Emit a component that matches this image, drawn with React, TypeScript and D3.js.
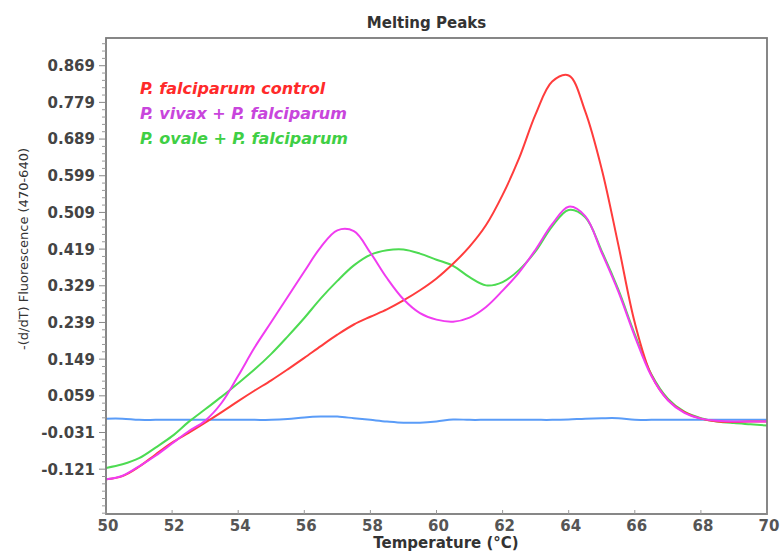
import React from 'react';
import * as d3 from 'd3';

// temperature grid (°C), 0.5 steps
const temps = [
  50, 50.5, 51, 51.5, 52, 52.5, 53, 53.5, 54, 54.5, 55, 55.5, 56, 56.5, 57, 57.5, 58, 58.5, 59, 59.5,
  60, 60.5, 61, 61.5, 62, 62.5, 63, 63.5, 64, 64.5, 65, 65.5, 66, 66.5, 67, 67.5, 68, 68.5, 69, 69.5, 70,
];

// -(d/dT) fluorescence readings per sample
const falciparumControl = [
  -0.146, -0.138, -0.115, -0.085, -0.056, -0.032, -0.007, 0.019, 0.046, 0.072, 0.097, 0.124, 0.152, 0.181,
  0.209, 0.234, 0.253, 0.271, 0.293, 0.318, 0.347, 0.383, 0.425, 0.478, 0.552, 0.642, 0.75, 0.83, 0.845,
  0.757, 0.615, 0.43, 0.238, 0.11, 0.049, 0.019, 0.003, -0.004, -0.005, -0.004, -0.004,
];
const vivaxFalciparum = [
  -0.146, -0.137, -0.114, -0.088, -0.058, -0.028, -0.002, 0.042, 0.108, 0.178, 0.24, 0.302, 0.364, 0.424,
  0.465, 0.463, 0.41, 0.348, 0.296, 0.262, 0.246, 0.241, 0.251, 0.277, 0.317, 0.362, 0.418, 0.48, 0.523,
  0.5, 0.41, 0.315, 0.205, 0.108, 0.048, 0.017, 0.003, -0.002, -0.004, -0.004, -0.004,
];
const ovaleFalciparum = [
  -0.118, -0.109, -0.094, -0.068, -0.04, -0.005, 0.026, 0.057, 0.09, 0.124, 0.162, 0.205, 0.25, 0.298,
  0.341, 0.379, 0.405, 0.416, 0.418, 0.408, 0.393, 0.378, 0.35, 0.33, 0.338, 0.368, 0.414, 0.475, 0.515,
  0.497, 0.414, 0.32, 0.21, 0.112, 0.052, 0.02, 0.004, -0.004, -0.008, -0.011, -0.014,
];
const negativeControl = [
  0.003, 0.003, 0.0, 0.0, 0.0, 0.0, 0.0, 0.0, 0.0, 0.0, 0.0, 0.002, 0.006, 0.008, 0.008, 0.004, 0.0, -0.004,
  -0.007, -0.007, -0.004, 0.001, 0.0, 0.0, 0.0, 0.0, 0.0, 0.0, 0.001, 0.003, 0.004, 0.004, 0.0, 0.0, 0.0,
  0.0, 0.0, 0.0, 0.0, 0.0, 0.0,
];

const xTicks = [50, 52, 54, 56, 58, 60, 62, 64, 66, 68, 70];
const yTickLabels = ['-0.121', '-0.031', '0.059', '0.149', '0.239', '0.329', '0.419', '0.509', '0.599', '0.689', '0.779', '0.869'];

const legendItems = [
  { label: 'P. falciparum control', color: '#ff2a2a' },
  { label: 'P. vivax + P. falciparum', color: '#c845dc' },
  { label: 'P. ovale + P. falciparum', color: '#3fcf45' },
];

const series = [
  { values: negativeControl, color: '#5a9cf8' },
  { values: ovaleFalciparum, color: '#4ddb52' },
  { values: falciparumControl, color: '#ff3c3c' },
  { values: vivaxFalciparum, color: '#f03cf0' },
];

const W = 780;
const H = 552;
const margin = { left: 106, right: 13, top: 38, bottom: 38 };

export default function App() {
  const x = d3.scaleLinear().domain([50, 70]).range([margin.left, W - margin.right]);
  const y = d3.scaleLinear().domain([-0.231, 0.937]).range([H - margin.bottom, margin.top]);

  const line = d3
    .line<number>()
    .x((_, i) => x(temps[i]))
    .y((d) => y(d))
    .curve(d3.curveCatmullRom.alpha(0.5));

  const yMajors = yTickLabels.map(Number);
  const yMinors = d3.range(-0.229, 0.937, 0.018).filter((v) => !yMajors.some((m) => Math.abs(m - v) < 0.002));

  const font = '"DejaVu Sans", sans-serif';
  const x0 = margin.left;
  const x1 = W - margin.right;
  const yb = H - margin.bottom;
  const yt = margin.top;

  return (
    <svg width={W} height={H} style={{ position: 'absolute', left: 0, top: 0, background: '#fff' }}>
      <text x={(x0 + x1) / 2 - 10} y={28} textAnchor="middle" fontFamily={font} fontWeight="bold" fontSize={15} fill="#333">
        Melting Peaks
      </text>

      {/* series */}
      <defs>
        <clipPath id="plot">
          <rect x={x0} y={yt} width={x1 - x0} height={yb - yt} />
        </clipPath>
      </defs>
      <g clipPath="url(#plot)">
        {series.map((s, i) => (
          <path key={i} d={line(s.values) ?? ''} fill="none" stroke={s.color} strokeWidth={2} strokeLinejoin="round" />
        ))}
      </g>

      {/* frame */}
      <rect x={x0} y={yt} width={x1 - x0} height={yb - yt} fill="none" stroke="#7a7a7a" strokeWidth={1.8} />

      {/* y axis */}
      {yMinors.map((v, i) => (
        <line key={'m' + i} x1={x0 - 4} x2={x0} y1={y(v)} y2={y(v)} stroke="#999" strokeWidth={1} />
      ))}
      {yTickLabels.map((t, i) => (
        <g key={t}>
          <line x1={x0 - 7} x2={x0} y1={y(yMajors[i])} y2={y(yMajors[i])} stroke="#888" strokeWidth={1} />
          <text x={x0 - 11} y={y(yMajors[i])} dy="0.36em" textAnchor="end" fontFamily={font} fontWeight="bold" fontSize={15} fill="#444">
            {t}
          </text>
        </g>
      ))}
      <text
        transform={`translate(28,249) rotate(-90)`}
        textAnchor="middle"
        fontFamily={font}
        fontSize={13}
        fill="#333"
        textLength={202}
        lengthAdjust="spacingAndGlyphs"
      >
        -(d/dT) Fluorescence (470-640)
      </text>

      {/* x axis */}
      {xTicks.map((t) => (
        <g key={t}>
          <line x1={x(t)} x2={x(t)} y1={yb - 4} y2={yb} stroke="#999" strokeWidth={1} />
          <text x={x(t) + 2} y={531} textAnchor="middle" fontFamily={font} fontWeight="bold" fontSize={15} fill="#555">
            {t}
          </text>
        </g>
      ))}
      <text x={446} y={548} textAnchor="middle" fontFamily={font} fontWeight="bold" fontSize={15} fill="#333">
        Temperature (°C)
      </text>

      {/* legend */}
      {legendItems.map((it, i) => (
        <text key={it.label} x={140} y={94 + i * 25} fontFamily={font} fontWeight="bold" fontStyle="italic" fontSize={16} fill={it.color}>
          {it.label}
        </text>
      ))}
    </svg>
  );
}
